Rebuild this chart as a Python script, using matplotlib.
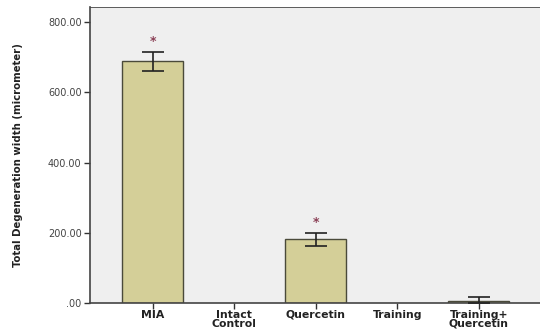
import numpy as np
import matplotlib.pyplot as plt
from matplotlib import font_manager

# data
groups = ['MIA', 'Intact\nControl', 'Quercetin', 'Training', 'Training+\nQuercetin']
means = [689, 0, 181, 0, 7]
err_lo = [28, 0, 20, 0, 7]
err_hi = [27, 0, 19, 0, 9]
signif = [True, False, True, False, False]
yticks = [0, 200, 400, 600, 800]
ytick_labels = ['.00', '200.00', '400.00', '600.00', '800.00']

fig = plt.figure(figsize=(5.4, 3.33), dpi=100)
fig.patch.set_facecolor('white')
ax = fig.add_axes([0.1667, 0.09, 0.8333, 0.889])
ax.set_facecolor('#efefef')

x = np.arange(len(groups))
has_bar = [m > 0 for m in means]
ax.bar(x, means, width=0.75, color='#d4cf98', edgecolor='#4a4a3a',
       linewidth=[1.0 if h else 0 for h in has_bar], zorder=2)
xe = [xi for xi, h in zip(x, has_bar) if h]
ax.errorbar(xe, [m for m, h in zip(means, has_bar) if h],
            yerr=[[e for e, h in zip(err_lo, has_bar) if h], [e for e, h in zip(err_hi, has_bar) if h]],
            fmt='none', ecolor='#222222', elinewidth=1.2, capsize=8, capthick=1.2, zorder=3)

# significance markers above the error bars
for xi, m, hi, s in zip(x, means, err_hi, signif):
    if s:
        ax.text(xi, m + hi + 10, '*', ha='center', va='bottom', fontsize=9,
                color='#8a3f55', fontweight='bold')

ax.set_xlim(-0.77, 4.75)
ax.set_ylim(0, 843)
ax.set_xticks(x)
ax.set_xticklabels(groups, fontsize=7.8, fontweight='bold', color='#222222', linespacing=0.85)
ax.set_yticks(yticks)
ax.set_yticklabels(ytick_labels, fontsize=7, color='#444444')
ax.tick_params(axis='both', length=4, width=1, color='#333333', pad=2)
ax.tick_params(axis='x', pad=1)

for side in ['left', 'bottom', 'top']:
    ax.spines[side].set_color('#444444')
ax.spines['left'].set_linewidth(1.2)
ax.spines['bottom'].set_linewidth(1.2)
ax.spines['top'].set_linewidth(0.6)
ax.spines['right'].set_visible(False)

names = {f.name for f in font_manager.fontManager.ttflist}
narrow = 'Liberation Sans Narrow' if 'Liberation Sans Narrow' in names else 'DejaVu Sans'
ax.set_ylabel('Total Degeneration width (micrometer)', fontsize=8.1, fontweight='bold',
              family=[narrow, 'DejaVu Sans'], stretch='condensed', color='#222222')
ax.yaxis.set_label_coords(-0.15, 0.5)

fig.savefig('out.png', dpi=100)
